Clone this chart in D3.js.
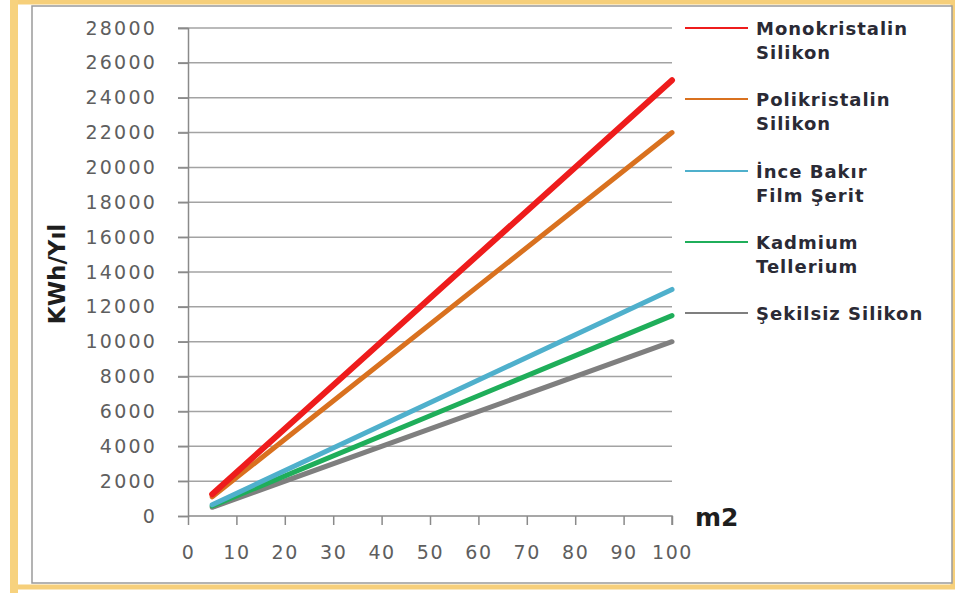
<!DOCTYPE html>
<html><head><meta charset="utf-8">
<script src="https://cdn.jsdelivr.net/npm/d3@7"></script>
<style>body{margin:0;background:#fff}svg{display:block}</style>
</head><body>
<svg id="c" width="955" height="593"></svg>
<script>
const xValues = [5, 100];
const seriesNames = [["Monokristalin","Silikon"],["Polikristalin","Silikon"],["İnce Bakır","Film Şerit"],["Kadmium","Tellerium"],["Şekilsiz Silikon"]];
const monoValues = [1250, 25000];
const polyValues = [1100, 22000];
const inceValues = [650, 13000];
const kadmiumValues = [575, 11500];
const sekilsizValues = [500, 10000];
const seriesColors = ["#ee1c1c","#d9711f","#4fb0cc","#1fae5a","#7f7f7f"];
const yTicks = [0,2000,4000,6000,8000,10000,12000,14000,16000,18000,20000,22000,24000,26000,28000];
const xTicks = [0,10,20,30,40,50,60,70,80,90,100];

const series = [monoValues, polyValues, inceValues, kadmiumValues, sekilsizValues];
const svg = d3.select("#c");
const FONT = "'DejaVu Sans', sans-serif";
// frame
svg.append("path").attr("d","M14,593V2H953V587H14").attr("fill","none").attr("stroke","#f6cf7a").attr("stroke-width",5);
svg.append("rect").attr("x",10).attr("y",0).attr("width",8).attr("height",593).attr("fill","#f7d27e");
svg.append("rect").attr("x",32).attr("y",6).attr("width",920).attr("height",577).attr("fill","#fff").attr("stroke","#9a9a9a").attr("stroke-width",1.5);

const x = d3.scaleLinear().domain([0,100]).range([188,672]);
const y = d3.scaleLinear().domain([0,28000]).range([516,28]);

// gridlines
svg.append("g").selectAll("line").data(yTicks.filter(d=>d>0)).join("line")
  .attr("x1",178).attr("x2",672).attr("y1",d=>y(d)).attr("y2",d=>y(d))
  .attr("stroke","#a3a3a3").attr("stroke-width",1.5);

const yAxis = svg.append("g").attr("transform","translate(188,0)")
  .call(d3.axisLeft(y).tickValues(yTicks).tickSize(10).tickPadding(21).tickFormat(d3.format("d")));
const xAxis = svg.append("g").attr("transform","translate(0,516)")
  .call(d3.axisBottom(x).tickValues(xTicks).tickSize(9).tickPadding(14));
[yAxis,xAxis].forEach(a=>{
  a.select(".domain").attr("stroke","#8a8a8a").attr("stroke-width",1.5);
  a.selectAll(".tick line").attr("stroke","#8a8a8a").attr("stroke-width",1.5);
  a.selectAll("text").attr("fill","#5e5e5e").attr("font-family",FONT).attr("font-size",19).attr("letter-spacing",2.2);
});
xAxis.selectAll("text").attr("dy","1.05em").attr("letter-spacing",1.6);
xAxis.select(".domain").attr("d","M188,0V0H672V9");

const line = d3.line().x((d,i)=>x(xValues[i])).y(d=>y(d));
svg.append("g").selectAll("path").data(series.map((s,i)=>({s,i})).reverse()).join("path")
  .attr("d",d=>line(d.s)).attr("fill","none").attr("stroke",d=>seriesColors[d.i])
  .attr("stroke-width",d=>d.i===0?6:5).attr("stroke-linecap","round");

// axis titles
svg.append("text").attr("transform","translate(65,274) rotate(-90)").attr("text-anchor","middle")
  .attr("font-family",FONT).attr("font-weight","bold").attr("font-size",23).attr("fill","#1e1e1e").text("KWh/Yıl");
svg.append("text").attr("x",695).attr("y",526).attr("font-family",FONT).attr("font-weight","bold").attr("font-size",25).attr("fill","#1e1e1e").text("m2");

// legend
const legY = [28,99,171,242,313];
const lg = svg.append("g").selectAll("g").data(seriesNames).join("g").attr("transform",(d,i)=>`translate(0,${legY[i]})`);
lg.append("line").attr("x1",685).attr("x2",748).attr("y1",0).attr("y2",0).attr("stroke",(d,i)=>seriesColors[i]).attr("stroke-width",2);
lg.each(function(d){
  const t = d3.select(this).append("text").attr("x",756).attr("y",7).attr("font-family",FONT)
    .attr("font-weight","bold").attr("font-size",18).attr("letter-spacing",1).attr("fill","#2a2a35");
  d.forEach((s,j)=>t.append("tspan").attr("x",756).attr("dy",j?24:0).text(s));
});
</script>
</body></html>
